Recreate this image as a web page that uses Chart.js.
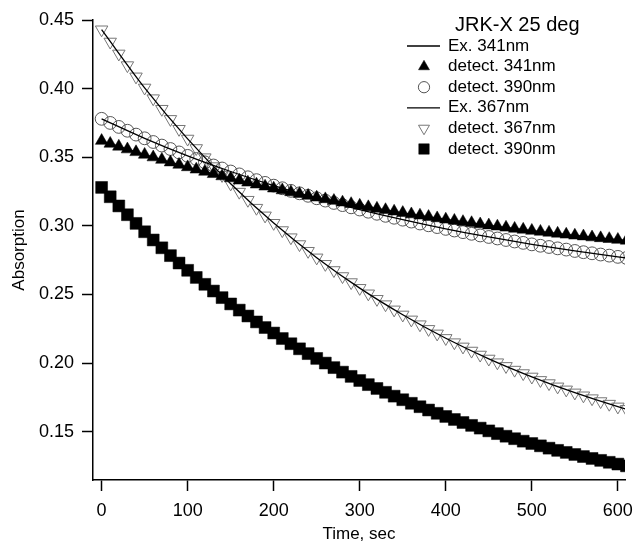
<!DOCTYPE html>
<html>
<head>
<meta charset="utf-8">
<script src="https://cdn.jsdelivr.net/npm/chart.js@4/dist/chart.umd.min.js"></script>
<style>
  html, body { margin: 0; padding: 0; background: #fff; }
  #wrap { width: 642px; height: 543px; position: relative; }
</style>
</head>
<body>
<div id="wrap"><canvas id="chartCanvas"></canvas></div>
<script>
// time axis (sec)
const times = [0, 10, 20, 30, 40, 50, 60, 70, 80, 90, 100, 110, 120, 130, 140, 150, 160, 170, 180, 190,
  200, 210, 220, 230, 240, 250, 260, 270, 280, 290, 300, 310, 320, 330, 340, 350, 360, 370, 380, 390,
  400, 410, 420, 430, 440, 450, 460, 470, 480, 490, 500, 510, 520, 530, 540, 550, 560, 570, 580, 590,
  600, 610];

// measured points
const detect341 = [0.3620, 0.3599, 0.3578, 0.3558, 0.3538, 0.3519, 0.3500, 0.3482, 0.3463, 0.3446,
  0.3428, 0.3411, 0.3395, 0.3378, 0.3362, 0.3347, 0.3331, 0.3316, 0.3302, 0.3287,
  0.3273, 0.3260, 0.3246, 0.3233, 0.3220, 0.3207, 0.3195, 0.3183, 0.3171, 0.3160,
  0.3148, 0.3137, 0.3126, 0.3116, 0.3105, 0.3095, 0.3085, 0.3076, 0.3066, 0.3056,
  0.3047, 0.3038, 0.3029, 0.3021, 0.3012, 0.3004, 0.2996, 0.2988, 0.2980, 0.2973,
  0.2965, 0.2958, 0.2951, 0.2944, 0.2937, 0.2930, 0.2924, 0.2917, 0.2911, 0.2905,
  0.2899, 0.2893];
const detect390a = [0.3780, 0.3750, 0.3721, 0.3693, 0.3665, 0.3638, 0.3611, 0.3585, 0.3560, 0.3535,
  0.3510, 0.3487, 0.3463, 0.3440, 0.3418, 0.3396, 0.3375, 0.3354, 0.3333, 0.3313,
  0.3293, 0.3274, 0.3255, 0.3237, 0.3219, 0.3201, 0.3184, 0.3167, 0.3151, 0.3135,
  0.3119, 0.3103, 0.3088, 0.3073, 0.3059, 0.3045, 0.3031, 0.3017, 0.3004, 0.2991,
  0.2978, 0.2966, 0.2954, 0.2942, 0.2930, 0.2919, 0.2908, 0.2897, 0.2886, 0.2876,
  0.2865, 0.2855, 0.2846, 0.2836, 0.2827, 0.2817, 0.2808, 0.2800, 0.2791, 0.2783,
  0.2774, 0.2766];
const detect367 = [0.4430, 0.4341, 0.4254, 0.4169, 0.4087, 0.4006, 0.3928, 0.3851, 0.3777, 0.3705,
  0.3634, 0.3565, 0.3498, 0.3433, 0.3369, 0.3307, 0.3247, 0.3188, 0.3130, 0.3074,
  0.3020, 0.2967, 0.2915, 0.2865, 0.2816, 0.2768, 0.2721, 0.2676, 0.2632, 0.2588,
  0.2546, 0.2506, 0.2466, 0.2427, 0.2389, 0.2352, 0.2316, 0.2281, 0.2247, 0.2214,
  0.2181, 0.2150, 0.2119, 0.2089, 0.2060, 0.2031, 0.2004, 0.1977, 0.1950, 0.1925,
  0.1900, 0.1875, 0.1852, 0.1828, 0.1806, 0.1784, 0.1763, 0.1742, 0.1721, 0.1702,
  0.1682, 0.1664];
const detect390b = [0.3280, 0.3212, 0.3145, 0.3081, 0.3018, 0.2957, 0.2897, 0.2840, 0.2783, 0.2729,
  0.2676, 0.2624, 0.2574, 0.2525, 0.2477, 0.2431, 0.2386, 0.2343, 0.2300, 0.2259,
  0.2219, 0.2179, 0.2141, 0.2104, 0.2069, 0.2034, 0.2000, 0.1967, 0.1934, 0.1903,
  0.1873, 0.1843, 0.1815, 0.1787, 0.1759, 0.1733, 0.1707, 0.1682, 0.1658, 0.1634,
  0.1611, 0.1589, 0.1567, 0.1546, 0.1526, 0.1506, 0.1486, 0.1467, 0.1449, 0.1431,
  0.1414, 0.1397, 0.1380, 0.1364, 0.1349, 0.1334, 0.1319, 0.1305, 0.1291, 0.1277,
  0.1264, 0.1251];

// fitted curves
const fitTimes = [0, 50, 100, 150, 200, 250, 300, 350, 400, 450, 500, 550, 600, 610];
const fit341a = [0.3620, 0.3519, 0.3428, 0.3347, 0.3273, 0.3207, 0.3148, 0.3095, 0.3047, 0.3004, 0.2965, 0.2930, 0.2899, 0.2893];
const fit341b = [0.3780, 0.3638, 0.3510, 0.3396, 0.3293, 0.3201, 0.3119, 0.3045, 0.2978, 0.2919, 0.2865, 0.2817, 0.2774, 0.2766];
const fit367a = [0.4430, 0.4006, 0.3634, 0.3307, 0.3020, 0.2768, 0.2546, 0.2352, 0.2181, 0.2031, 0.1900, 0.1784, 0.1682, 0.1664];
const fit367b = [0.3280, 0.2957, 0.2676, 0.2431, 0.2219, 0.2034, 0.1873, 0.1733, 0.1611, 0.1506, 0.1414, 0.1334, 0.1264, 0.1251];

const xTicks = [0, 100, 200, 300, 400, 500, 600];
const yTicks = [0.15, 0.20, 0.25, 0.30, 0.35, 0.40, 0.45];

const legendTitle = "JRK-X 25 deg";
const legendLabels = ["Ex. 341nm", "detect. 341nm", "detect. 390nm", "Ex. 367nm", "detect. 367nm", "detect. 390nm"];
// which marker dataset each legend row shows (null = line)
const legendSeries = [null, 0, 1, null, 2, 3];

const FONT = '"Liberation Sans", Arial, Helvetica, sans-serif';

function pts(xs, ys) {
  return ys.map((v, i) => ({ x: xs[i], y: v }));
}

function markerSet(label, ys, style, extra) {
  return Object.assign({
    label: label,
    data: pts(times, ys),
    showLine: false,
    pointStyle: style,
    order: 2
  }, extra);
}

function fitSet(label, ys) {
  return {
    label: label,
    data: pts(fitTimes, ys),
    showLine: true,
    borderColor: "#000",
    borderWidth: 1.3,
    pointRadius: 0,
    cubicInterpolationMode: "monotone",
    fill: false,
    order: 1
  };
}

const insetLegend = {
  id: "insetLegend",
  afterDraw(chart) {
    const ctx = chart.ctx;
    ctx.save();
    ctx.fillStyle = "#000";
    ctx.textBaseline = "middle";
    ctx.textAlign = "left";
    ctx.font = "20px " + FONT;
    ctx.fillText(legendTitle, 455, 25);
    ctx.font = "17px " + FONT;
    legendLabels.forEach((label, i) => {
      const y = 46 + i * 20.6;
      const si = legendSeries[i];
      if (si === null) {
        ctx.strokeStyle = "#000";
        ctx.lineWidth = 1.3;
        ctx.beginPath();
        ctx.moveTo(407, y);
        ctx.lineTo(440, y);
        ctx.stroke();
      } else {
        const ds = chart.data.datasets[si];
        ctx.fillStyle = ds.pointBackgroundColor;
        ctx.strokeStyle = ds.pointBorderColor;
        ctx.lineWidth = ds.pointBorderWidth;
        // legend markers a bit smaller than the plotted ones
        Chart.helpers.drawPoint(ctx, {
          pointStyle: ds.pointStyle,
          rotation: ds.pointRotation || 0,
          radius: ds.pointRadius * 0.88,
          borderWidth: ds.pointBorderWidth
        }, 424, y);
      }
      ctx.fillStyle = "#000";
      ctx.fillText(label, 448, y);
    });
    ctx.restore();
  }
};

var ctx = document.getElementById("chartCanvas").getContext("2d");

var absChart = new Chart(ctx, {
  type: "scatter",
  data: {
    datasets: [
      markerSet("detect. 341nm", detect341, "triangle", {
        pointRadius: 7.2, pointBackgroundColor: "#000", pointBorderColor: "#000", pointBorderWidth: 0.5
      }),
      markerSet("detect. 390nm", detect390a, "circle", {
        pointRadius: 6.4, pointBackgroundColor: "rgba(0,0,0,0)", pointBorderColor: "#555", pointBorderWidth: 1
      }),
      markerSet("detect. 367nm", detect367, "triangle", {
        pointRadius: 7.2, pointRotation: 180, pointBackgroundColor: "rgba(0,0,0,0)", pointBorderColor: "#777", pointBorderWidth: 1
      }),
      markerSet("detect. 390nm", detect390b, "rect", {
        pointRadius: 8.4, pointBackgroundColor: "#000", pointBorderColor: "#000", pointBorderWidth: 0.5
      }),
      fitSet("Ex. 341nm", fit341a),
      fitSet("Ex. 341nm", fit341b),
      fitSet("Ex. 367nm", fit367a),
      fitSet("Ex. 367nm", fit367b)
    ]
  },
  options: {
    responsive: true,
    maintainAspectRatio: false,
    animation: false,
    devicePixelRatio: 1,
    layout: { padding: { left: 0, right: 9, top: 20, bottom: 0 } },
    plugins: {
      legend: { display: false },
      tooltip: { enabled: false },
      title: { display: false }
    },
    scales: {
      x: {
        type: "linear",
        position: "bottom",
        min: -10,
        max: 608.3,
        afterBuildTicks: (axis) => { axis.ticks = xTicks.map(v => ({ value: v })); },
        afterFit: (axis) => { axis.height = 63; },
        grid: { drawOnChartArea: false, drawTicks: true, tickLength: 11, tickColor: "#000", tickWidth: 1.5 },
        border: { display: true, color: "#000", width: 1.5 },
        ticks: { color: "#000", font: { family: FONT, size: 18 }, padding: 9, maxRotation: 0 },
        title: { display: true, text: "Time, sec", color: "#000", font: { family: FONT, size: 17, lineHeight: 1 }, padding: 0 }
      },
      y: {
        type: "linear",
        position: "left",
        min: 0.1148,
        max: 0.45,
        afterBuildTicks: (axis) => { axis.ticks = yTicks.map(v => ({ value: v })); },
        afterFit: (axis) => { axis.width = 93; },
        grid: { drawOnChartArea: false, drawTicks: true, tickLength: 11, tickColor: "#000", tickWidth: 1.5 },
        border: { display: true, color: "#000", width: 1.5 },
        ticks: { color: "#000", font: { family: FONT, size: 18 }, padding: 8, callback: (v) => v.toFixed(2) },
        title: { display: true, text: "Absorption", color: "#000", font: { family: FONT, size: 17, lineHeight: 1 }, padding: { top: 11, bottom: 0 } }
      }
    }
  },
  plugins: [insetLegend]
});
</script>
</body>
</html>
